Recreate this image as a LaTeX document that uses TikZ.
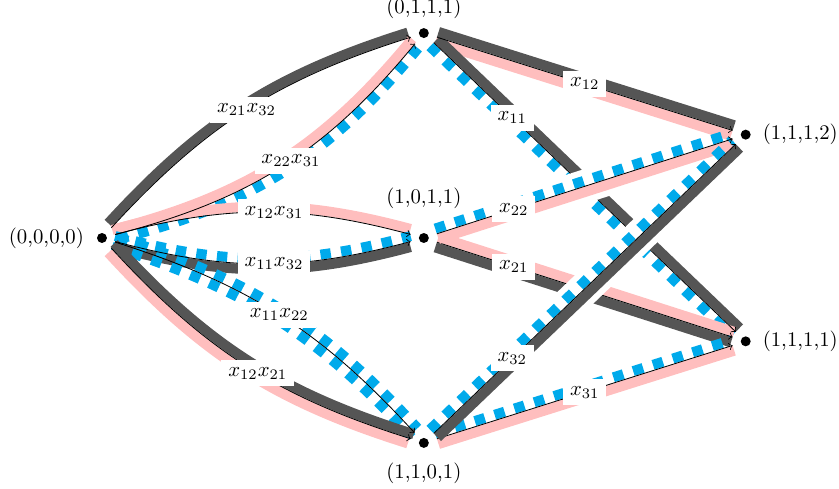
\documentclass[tikz,border=0pt]{standalone}
\usepackage{amsmath}
\usepackage{amsfonts}
\usetikzlibrary{positioning}
\definecolor{gry}{RGB}{85,85,85}
\definecolor{pnk}{RGB}{255,190,190}
\definecolor{blu}{RGB}{0,170,235}
\tikzset{
  dot/.style={circle, fill=black, inner sep=0pt, minimum size=4.8pt, outer sep=4.2pt},
  lab/.style={fill=white},
  bl/.style={bend left=15},
  br/.style={bend right=15},
  band/.style={line width=4.8pt},
  grayband/.style={band, draw=gry},
  pinkband/.style={band, draw=pnk},
  blueband/.style={band, draw=blu, dash pattern=on 5pt off 5pt},
  nudge/.style={transform canvas={shift={(#1:2.65pt)}}},
  halo/.style={draw=white, line width=16pt, shorten <=1.4cm, shorten >=1.4cm},
}
\begin{document}
\begin{tikzpicture}
    \useasboundingbox (-1.727,-4.25) rectangle (12.48,4.03);
    \node[dot] (n0000) at (0,0) {};
    \node[dot] (n0111) at (5.45,3.47) {};
    \node[dot] (n1011) at (5.45,0) {};
    \node[dot] (n1101) at (5.45,-3.47) {};
    \node[dot] (n1112) at (10.9,1.75) {};
    \node[dot] (n1111) at (10.9,-1.75) {};

    % left half
    \draw[grayband, nudge=122.5] (n0000) to[bl] (n0111);
    \draw[pinkband, nudge=122.5] (n0000) to[bend right=18] (n0111);
    \draw[blueband, nudge=-57.5] (n0000) to[bend right=18] (n0111);
    \draw[pinkband, nudge=90] (n0000) to[bl] (n1011);
    \draw[blueband, nudge=90] (n0000) to[br] (n1011);
    \draw[grayband, nudge=-90] (n0000) to[br] (n1011);
    \draw[blueband, nudge=57.5] (n0000) to[bl] (n1101);
    \draw[blueband, nudge=-122.5] (n0000) to[bl] (n1101);
    \draw[grayband, nudge=57.5] (n0000) to[br] (n1101);
    \draw[pinkband, nudge=-122.5] (n0000) to[br] (n1101);

    \draw[->] (n0000) to[bl] node[lab] (w1) {$x_{21}x_{32}$} (n0111);
    \draw[->] (n0000) to[bend right=18] node[lab, pos=0.53] (w2) {$x_{22}x_{31}$} (n0111);
    \draw[->] (n0000) to[bl] node[lab, pos=0.54] (w3) {$x_{12}x_{31}$} (n1011);
    \draw[->] (n0000) to[br] node[lab, pos=0.54] (w4) {$x_{11}x_{32}$} (n1011);
    \draw[->] (n0000) to[bl] node[lab] (w5) {$x_{11}x_{22}$} (n1101);
    \draw[->] (n0000) to[br] node[lab, pos=0.54] (w6) {$x_{12}x_{21}$} (n1101);

    % right half, under the crossings
    \draw[grayband, nudge=72.5] (n0111) -- (n1112);
    \draw[pinkband, nudge=-107.5] (n0111) -- (n1112);
    \draw[grayband, nudge=46.2] (n0111) -- (n1111);
    \draw[blueband, nudge=-133.8] (n0111) -- (n1111);
    \draw[pinkband, nudge=72.2] (n1011) -- (n1111);
    \draw[grayband, nudge=-107.8] (n1011) -- (n1111);
    \draw[blueband, nudge=107.5] (n1101) -- (n1111);
    \draw[pinkband, nudge=-72.5] (n1101) -- (n1111);

    \draw[->] (n0111) -- node[lab] (w7) {$x_{12}$} (n1112);
    \draw[->] (n0111) -- node[lab, pos=0.26] (w8) {$x_{11}$} (n1111);
    \draw[->] (n1011) -- node[lab, pos=0.26] (w10) {$x_{21}$} (n1111);
    \draw[->] (n1101) -- node[lab] (w12) {$x_{31}$} (n1111);

    % right half, over the crossings
    \draw[halo] (n1011) -- (n1112);
    \draw[halo] (n1101) -- (n1112);
    \draw[blueband, nudge=107.8] (n1011) -- (n1112);
    \draw[pinkband, nudge=-72.2] (n1011) -- (n1112);
    \draw[blueband, nudge=133.8] (n1101) -- (n1112);
    \draw[grayband, nudge=-46.2] (n1101) -- (n1112);

    \draw[->] (n1011) -- node[lab, pos=0.26] (w9) {$x_{22}$} (n1112);
    \draw[->] (n1101) -- node[lab, pos=0.26] (w11) {$x_{32}$} (n1112);

    \node[left=-1.4pt of n0000] (t0000) {(0,0,0,0)};
    \node[above=-3.4pt of n0111] (t0111) {(0,1,1,1)};
    \node[above=3.8pt of n1011] (t1011) {(1,0,1,1)};
    \node[below=-0.3pt of n1101] (t1101) {(1,1,0,1)};
    \node[right=-1.9pt of n1112] (t1112) {(1,1,1,2)};
    \node[right=-1.9pt of n1111] (t1111) {(1,1,1,1)};
\end{tikzpicture}
\end{document}
